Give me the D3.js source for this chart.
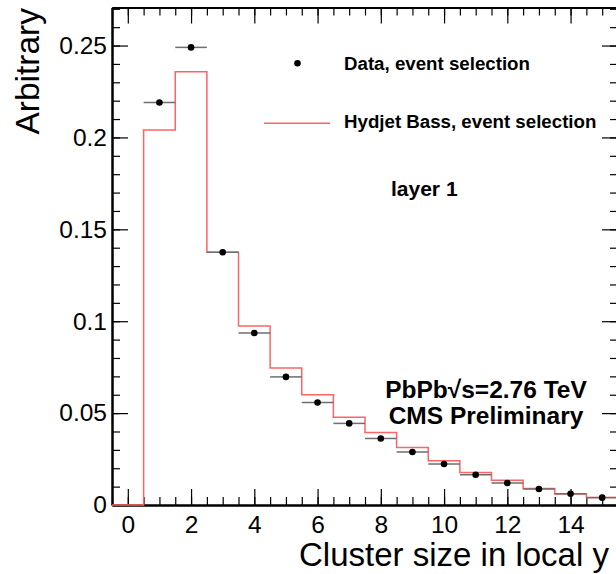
<!DOCTYPE html>
<html lang="en">
    <head>
        <meta charset="utf-8">
        <title>Cluster size</title>
        <script src="https://d3js.org/d3.v7.min.js"></script>
        <style type="text/css">
            body { margin: 0; background: #fff; }
            text { font-family: "Liberation Sans", Arial, sans-serif; fill: #000; }
        </style>
    </head>
    <body>
        <script>
            // data
            var bins = [0, 1, 2, 3, 4, 5, 6, 7, 8, 9, 10, 11, 12, 13, 14, 15];
            var mcValues = [0, 0.2040, 0.2357, 0.1375, 0.0974, 0.0746, 0.0600, 0.0478,
                            0.0395, 0.0313, 0.0241, 0.0177, 0.0134, 0.0090, 0.0060, 0.0041];
            var dataX = [1, 2, 3, 4, 5, 6, 7, 8, 9, 10, 11, 12, 13, 14, 15];
            var dataValues = [0.2190, 0.2490, 0.1375, 0.0936, 0.0697, 0.0558, 0.0444, 0.0362,
                              0.0288, 0.0223, 0.0165, 0.0120, 0.0087, 0.0061, 0.0040];
            var xTicks = [0, 2, 4, 6, 8, 10, 12, 14];
            var yTicks = [0, 0.05, 0.1, 0.15, 0.2, 0.25];

            // configuration
            var outerWidth = 616;
            var outerHeight = 574;
            var frameLeft = 112, frameRight = 618, frameTop = 7.5, frameBottom = 505;
            var majorLen = 16, minorLen = 8;
            var tickFont = 24.5;

            var svg = d3.select("body")
                        .append("svg")
                        .attr("width", outerWidth)
                        .attr("height", outerHeight);

            var xScale = d3.scaleLinear().domain([-0.5, 15.5]).range([frameLeft, frameRight]);
            var yScale = d3.scaleLinear().domain([0, 0.2707]).range([frameBottom, frameTop]);

            var xMinor = d3.range(-0.5, 15.51, 0.5);
            var yMinor = d3.range(0, 0.2707, 0.01);

            function styleAxis(g) {
                g.selectAll("path.domain").attr("stroke", "#000").attr("stroke-width", 2);
                g.selectAll(".tick line").attr("stroke", "#000").attr("stroke-width", 1.2);
            }

            function noLabels(g) { g.selectAll(".tick text").remove(); }

            // bottom axis
            svg.append("g").attr("transform", "translate(0," + frameBottom + ")")
                .call(d3.axisBottom(xScale).tickValues(xMinor).tickSizeInner(-minorLen).tickSizeOuter(0))
                .call(styleAxis).call(noLabels);
            svg.append("g").attr("transform", "translate(0," + frameBottom + ")")
                .call(d3.axisBottom(xScale).tickValues(xTicks).tickSizeInner(-majorLen).tickSizeOuter(0)
                    .tickPadding(10.3).tickFormat(d3.format("d")))
                .call(styleAxis)
                .selectAll("text").attr("font-size", tickFont).attr("fill", "#000");
            // top axis
            svg.append("g").attr("transform", "translate(0," + frameTop + ")")
                .call(d3.axisTop(xScale).tickValues(xMinor).tickSizeInner(-minorLen).tickSizeOuter(0))
                .call(styleAxis).call(noLabels);
            svg.append("g").attr("transform", "translate(0," + frameTop + ")")
                .call(d3.axisTop(xScale).tickValues(xTicks).tickSizeInner(-majorLen).tickSizeOuter(0))
                .call(styleAxis).call(noLabels);
            // left axis
            svg.append("g").attr("transform", "translate(" + frameLeft + ",0)")
                .call(d3.axisLeft(yScale).tickValues(yMinor).tickSizeInner(-minorLen).tickSizeOuter(0))
                .call(styleAxis).call(noLabels);
            svg.append("g").attr("transform", "translate(" + frameLeft + ",0)")
                .call(d3.axisLeft(yScale).tickValues(yTicks).tickSizeInner(-majorLen).tickSizeOuter(0)
                    .tickPadding(5).tickFormat(d3.format("~g")))
                .call(styleAxis)
                .selectAll("text").attr("font-size", tickFont).attr("fill", "#000");
            // right axis (mostly outside the window)
            svg.append("g").attr("transform", "translate(" + frameRight + ",0)")
                .call(d3.axisRight(yScale).tickValues(yMinor).tickSizeInner(-minorLen).tickSizeOuter(0))
                .call(styleAxis).call(noLabels);
            svg.append("g").attr("transform", "translate(" + frameRight + ",0)")
                .call(d3.axisRight(yScale).tickValues(yTicks).tickSizeInner(-majorLen).tickSizeOuter(0))
                .call(styleAxis).call(noLabels);

            // simulation histogram
            var edges = bins.map(function (b) { return b - 0.5; }).concat([bins[bins.length - 1] + 0.5]);
            var stepPts = edges.map(function (e, i) {
                return [e, mcValues[Math.min(i, mcValues.length - 1)]];
            });
            var step = d3.line()
                .x(function (d) { return xScale(d[0]); })
                .y(function (d) { return yScale(d[1]); })
                .curve(d3.curveStepAfter);
            svg.append("path")
                .attr("d", step(stepPts))
                .attr("fill", "none")
                .attr("stroke", "#ff6464")
                .attr("stroke-width", 1.5);

            // data points with bin-width error bars
            var pts = svg.append("g").selectAll("g").data(dataX).enter().append("g");
            pts.append("line")
                .attr("x1", function (d) { return xScale(d - 0.5); })
                .attr("x2", function (d) { return xScale(d + 0.5); })
                .attr("y1", function (d, i) { return yScale(dataValues[i]); })
                .attr("y2", function (d, i) { return yScale(dataValues[i]); })
                .attr("stroke", "#6e6e6e")
                .attr("stroke-width", 1.5);
            pts.append("circle")
                .attr("cx", function (d) { return xScale(d); })
                .attr("cy", function (d, i) { return yScale(dataValues[i]); })
                .attr("r", 3.3)
                .attr("fill", "#000");

            // legend
            svg.append("circle").attr("cx", 297.5).attr("cy", 63.3).attr("r", 3.3).attr("fill", "#000");
            svg.append("text").attr("x", 344).attr("y", 69.5)
                .attr("font-size", 18.7).attr("font-weight", "bold")
                .text("Data, event selection");
            svg.append("line").attr("x1", 264).attr("x2", 330).attr("y1", 123.3).attr("y2", 123.3)
                .attr("stroke", "#ff6464").attr("stroke-width", 1.5);
            svg.append("text").attr("x", 344).attr("y", 127.7)
                .attr("font-size", 18.7).attr("font-weight", "bold")
                .text("Hydjet Bass, event selection");

            svg.append("text").attr("x", 391).attr("y", 196)
                .attr("font-size", 21).attr("font-weight", "bold")
                .text("layer 1");

            svg.append("text").attr("x", 486).attr("y", 398.3)
                .attr("text-anchor", "middle")
                .attr("font-size", 24.5).attr("font-weight", "bold")
                .text("PbPb\u221As=2.76 TeV");
            svg.append("text").attr("x", 486).attr("y", 423.5)
                .attr("text-anchor", "middle")
                .attr("font-size", 24.5).attr("font-weight", "bold")
                .text("CMS Preliminary");

            // axis titles
            svg.append("text")
                .attr("transform", "translate(39,8) rotate(-90)")
                .attr("text-anchor", "end")
                .attr("font-size", 33.5)
                .text("Arbitrary");
            svg.append("text").attr("x", 299).attr("y", 566)
                .attr("font-size", 33)
                .text("Cluster size in local y");
        </script>
    </body>
</html>
